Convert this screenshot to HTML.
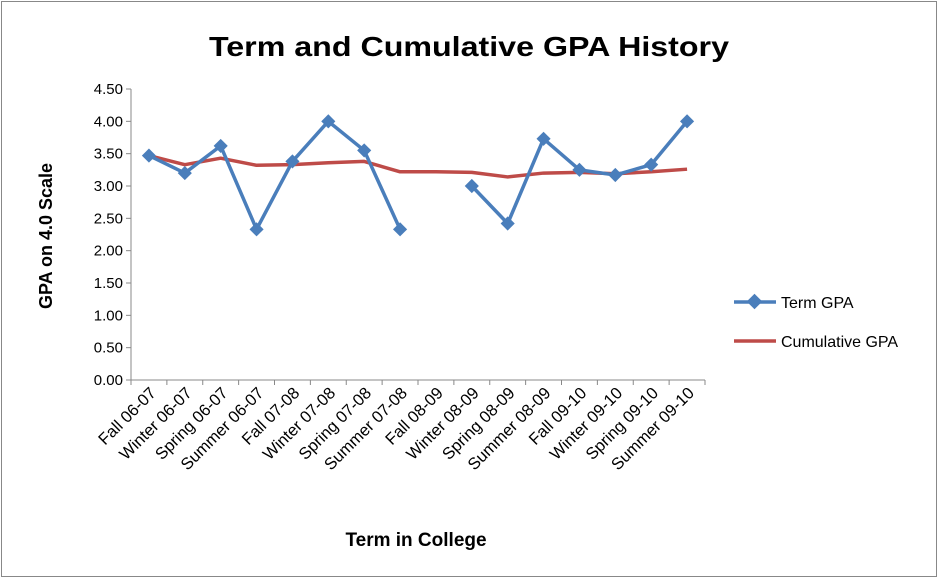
<!DOCTYPE html>
<html><head><meta charset="utf-8"><style>
body{margin:0;background:#fff;}
svg text{font-family:"Liberation Sans",sans-serif;}
</style></head><body>
<svg width="939" height="579" viewBox="0 0 939 579">
<rect x="1.5" y="1.5" width="935" height="575" fill="#fff" stroke="#888" stroke-width="1"/>
<text x="469" y="56" text-anchor="middle" font-size="28" font-weight="bold" textLength="520" lengthAdjust="spacingAndGlyphs">Term and Cumulative GPA History</text>
<text transform="translate(52,236) rotate(-90)" text-anchor="middle" font-size="18" font-weight="bold">GPA on 4.0 Scale</text>
<text x="416" y="546" text-anchor="middle" font-size="19" font-weight="bold">Term in College</text>
<g id="axes"></g><g id="series"></g>
<g>
<line x1="734" y1="302" x2="776" y2="302" stroke="#4a7ebb" stroke-width="3.5"/>
<rect x="749" y="296" width="11" height="11" fill="#4a7ebb" transform="rotate(45 754.5 301.5)"/>
<text x="781" y="308" font-size="16">Term GPA</text>
<line x1="734" y1="341" x2="776" y2="341" stroke="#be4b48" stroke-width="3.5"/>
<text x="781" y="347" font-size="16">Cumulative GPA</text>
</g>
</svg>
<script>
const categories=["Fall 06-07","Winter 06-07","Spring 06-07","Summer 06-07","Fall 07-08","Winter 07-08","Spring 07-08","Summer 07-08","Fall 08-09","Winter 08-09","Spring 08-09","Summer 08-09","Fall 09-10","Winter 09-10","Spring 09-10","Summer 09-10"];
const termGPA=[3.47,3.20,3.62,2.33,3.38,4.00,3.55,2.33,null,3.00,2.42,3.73,3.25,3.17,3.33,4.00];
const cumulativeGPA=[3.47,3.33,3.43,3.32,3.33,3.36,3.38,3.22,3.22,3.21,3.14,3.20,3.21,3.19,3.22,3.26];
const yTicks=[0,0.5,1,1.5,2,2.5,3,3.5,4,4.5];
const NS="http://www.w3.org/2000/svg";
const X0=131,X1=705,Y0=380,Y1=89,YMAX=4.5;
const step=(X1-X0)/categories.length;
const xs=i=>X0+step*(i+0.5);
const ys=v=>Y0-(v/YMAX)*(Y0-Y1);
const axes=document.getElementById('axes'),ser=document.getElementById('series');
function mk(t,a,p){const e=document.createElementNS(NS,t);for(const k in a)e.setAttribute(k,a[k]);p.appendChild(e);return e;}
yTicks.forEach(v=>{
 const y=ys(v);
 const tk=mk('line',{x1:X0-5,y1:y,x2:X0,y2:y,stroke:'#888'},axes);
 
 
 const t=mk('text',{x:X0-8,y:y+5,'text-anchor':'end','font-size':15},axes);
 t.textContent=v.toFixed(2);
 
 
});
const ya=mk('line',{x1:X0,y1:Y1,x2:X0,y2:Y0,stroke:'#888'},axes);


const xa=mk('line',{x1:X0,y1:Y0,x2:X1,y2:Y0,stroke:'#888'},axes);


for(let i=0;i<=categories.length;i++){
 const x=X0+step*i;
 const tk=mk('line',{x1:x,y1:Y0,x2:x,y2:Y0+5,stroke:'#888'},axes);
 
 
}
categories.forEach((c,i)=>{
 const x=xs(i)+8,y=Y0+14;
 const t=mk('text',{x:x,y:y,'text-anchor':'end','font-size':16.5,transform:`rotate(-45 ${x} ${y})`},axes);
 t.textContent=c;
 
 
});
const cum=mk('polyline',{points:cumulativeGPA.map((v,i)=>xs(i)+','+ys(v)).join(' '),fill:'none',stroke:'#be4b48','stroke-width':3.5,'stroke-linejoin':'round'},ser);


let seg=[];
const segs=[];
termGPA.forEach((v,i)=>{if(v==null){if(seg.length)segs.push(seg);seg=[];}else seg.push(xs(i)+','+ys(v));});
if(seg.length)segs.push(seg);
segs.forEach(s=>{
 const l=mk('polyline',{points:s.join(' '),fill:'none',stroke:'#4a7ebb','stroke-width':3.5,'stroke-linejoin':'round'},ser);
 
 
});
termGPA.forEach((v,i)=>{
 if(v==null)return;
 const x=xs(i),y=ys(v);
 const m=mk('rect',{x:x-5,y:y-5,width:10,height:10,fill:'#4a7ebb',transform:`rotate(45 ${x} ${y})`},ser);
 
 
});
</script>
</body></html>
